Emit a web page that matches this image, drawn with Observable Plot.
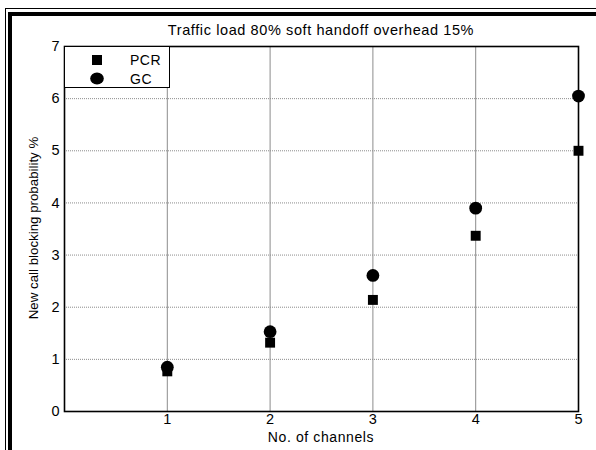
<!DOCTYPE html>
<html>
<head>
<meta charset="utf-8">
<script src="https://cdn.jsdelivr.net/npm/d3@7"></script>
<script src="https://cdn.jsdelivr.net/npm/@observablehq/plot@0.6"></script>
<style>
  html, body { margin: 0; padding: 0; background: #fff; }
  #wrap { position: relative; width: 596px; height: 450px; overflow: hidden; font-family: "Liberation Sans", Arial, sans-serif; color: #000; }
  #wrap svg { position: absolute; left: 0; top: 0; }
  #wrap svg text { font-size: 14.5px; }
  .b1 { position: absolute; left: 5px; top: 8px; width: 800px; height: 800px; border-left: 1.5px solid #000; border-top: 1.5px solid #000; }
  .b2 { position: absolute; left: 8px; top: 12px; width: 800px; height: 800px; border-left: 4px solid #000; border-top: 4px solid #000; }
  .title { position: absolute; left: 64px; width: 514px; top: 22px; text-align: center; font-size: 14.5px; letter-spacing: 0.6px; white-space: nowrap; }
  .xlab { position: absolute; left: 64px; width: 514px; top: 429px; text-align: center; font-size: 14px; letter-spacing: 0.6px; white-space: nowrap; }
  .ylab { position: absolute; left: 33px; top: 228px; font-size: 13.3px; white-space: nowrap; transform: translate(-50%, -50%) rotate(-90deg); }
  .legend { position: absolute; left: 64px; top: 46px; width: 106px; height: 42px; background: #fff; border: 1.5px solid #000; box-sizing: border-box; }
  .legend .row { position: absolute; left: 0; height: 16px; font-size: 14px; letter-spacing: 0.5px; }
  .legend .sym { position: absolute; }
  .legend .lab { position: absolute; left: 65px; top: 0; line-height: 16px; }
</style>
</head>
<body>
<div id="wrap">
  <div class="b1"></div>
  <div class="b2"></div>
</div>
<script>
// Data
const channels = [1, 2, 3, 4, 5];
const pcrValues = [0.77, 1.32, 2.14, 3.37, 5.0];
const gcValues = [0.85, 1.53, 2.61, 3.90, 6.05];
const xTicks = [1, 2, 3, 4, 5];
const yTicks = [0, 1, 2, 3, 4, 5, 6, 7];
const seriesNames = ["PCR", "GC"];
const titleText = "Traffic load 80% soft handoff overhead 15%";
const xLabelText = "No. of channels";
const yLabelText = "New call blocking probability %";

const pcr = channels.map((c, i) => ({x: c, y: pcrValues[i], s: seriesNames[0]}));
const gc = channels.map((c, i) => ({x: c, y: gcValues[i], s: seriesNames[1]}));

const chart = Plot.plot({
  width: 596,
  height: 450,
  marginLeft: 64,
  marginRight: 18,
  marginTop: 46,
  marginBottom: 39,
  style: {fontFamily: '"Liberation Sans", Arial, sans-serif', fontSize: "14.5px", background: "transparent", color: "#000"},
  x: {domain: [0, 5]},
  y: {domain: [0, 7]},
  marks: [
    Plot.gridX(xTicks.slice(0, 4), {stroke: "#8c8c8c", strokeOpacity: 1, strokeWidth: 1}),
    Plot.gridY(yTicks.slice(1, 7), {stroke: "#8c8c8c", strokeOpacity: 1, strokeWidth: 1, strokeDasharray: "1,1"}),
    Plot.axisX(xTicks, {tickSize: 0, tickPadding: 2, label: null, tickFormat: d3.format("d"), fontSize: 14.5}),
    Plot.axisY(yTicks, {tickSize: 0, tickPadding: 5, label: null, tickFormat: d3.format("d"), fontSize: 14.5}),
    Plot.frame({stroke: "#000", strokeWidth: 1.6}),
    Plot.dot(pcr, {x: "x", y: "y", symbol: "square", r: 5.6, fill: "#000", stroke: null}),
    Plot.dot(gc, {x: "x", y: "y", symbol: "circle", r: 6.4, fill: "#000", stroke: null})
  ]
});

const wrap = document.getElementById("wrap");
wrap.appendChild(chart);

function addDiv(cls, text) {
  const d = document.createElement("div");
  d.className = cls;
  if (text != null) d.textContent = text;
  wrap.appendChild(d);
  return d;
}
addDiv("title", titleText);
addDiv("xlab", xLabelText);
addDiv("ylab", yLabelText);

const legend = addDiv("legend");
const rows = [
  {name: seriesNames[0], top: 5, svg: '<svg width="12" height="12"><rect x="1" y="1" width="10" height="10" fill="#000"/></svg>'},
  {name: seriesNames[1], top: 24, svg: '<svg width="14" height="13"><ellipse cx="7" cy="6.5" rx="6.8" ry="6" fill="#000"/></svg>'}
];
rows.forEach((r, i) => {
  const row = document.createElement("div");
  row.className = "row";
  row.style.top = r.top + "px";
  row.style.width = "100%";
  const sym = document.createElement("div");
  sym.className = "sym";
  sym.style.left = (i === 0 ? 26 : 25) + "px";
  sym.style.top = (i === 0 ? 2 : 1) + "px";
  sym.innerHTML = r.svg;
  const lab = document.createElement("div");
  lab.className = "lab";
  lab.textContent = r.name;
  row.appendChild(sym);
  row.appendChild(lab);
  legend.appendChild(row);
});
</script>
</body>
</html>
